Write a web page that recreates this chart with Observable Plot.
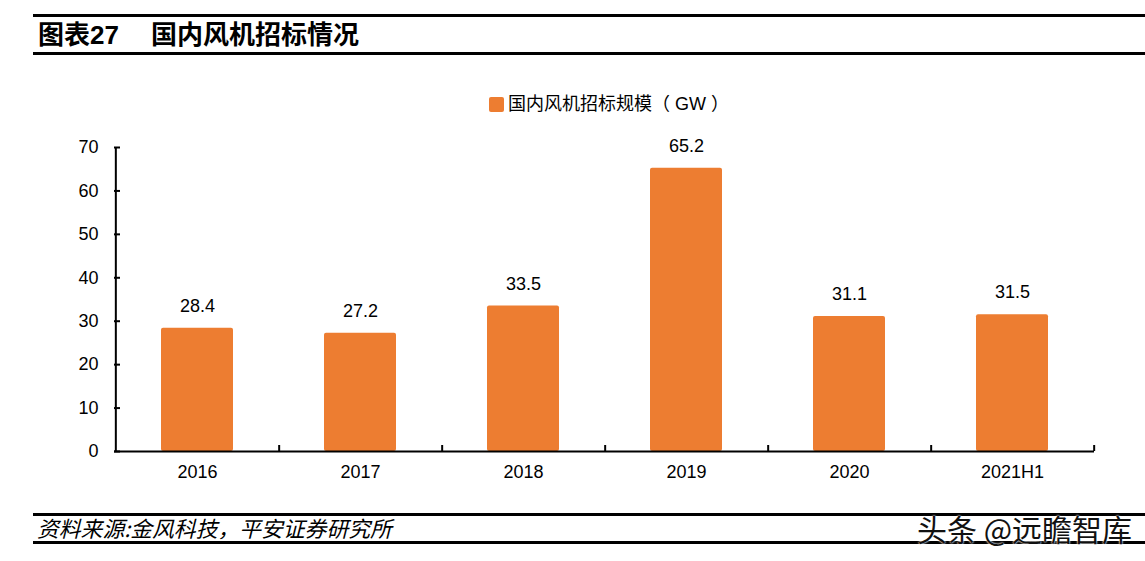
<!DOCTYPE html>
<html>
<head>
<meta charset="utf-8">
<script src="https://cdn.jsdelivr.net/npm/d3@7"></script>
<script src="https://cdn.jsdelivr.net/npm/@observablehq/plot@0.6"></script>
<style>
  html, body { margin: 0; padding: 0; background: #fff; }
  body { width: 1145px; height: 561px; position: relative; overflow: hidden;
         font-family: "Liberation Sans", "Noto Sans CJK SC", sans-serif; color: #000; }
  .rule { position: absolute; left: 33px; right: 0; height: 3px; background: #000; }
  .title { position: absolute; top: 18px; font-size: 26px; font-weight: bold; line-height: 34px;
           font-family: "Liberation Sans", "Noto Sans CJK SC", sans-serif; white-space: nowrap; }
  #legend { position: absolute; left: 489px; top: 92px; font-size: 18px; line-height: 24px; z-index: 2;
            font-family: "Liberation Sans", "Noto Sans CJK SC", sans-serif; white-space: pre; }
  #legend .sw { display: inline-block; width: 15px; height: 15px; background: #ED7D31; border-radius: 2px;
                vertical-align: -2px; margin-right: 4px; }
  #chart { position: absolute; left: 0; top: 60px; z-index: 1; }
  #source { position: absolute; left: 37px; top: 515px; font-size: 21.8px; line-height: 26px; font-style: italic;
            font-family: "Noto Sans CJK SC", sans-serif; white-space: nowrap; }
  #mark { position: absolute; left: 917px; top: 510px; font-size: 30px; line-height: 36px; color: #111; z-index: 3;
          font-family: "Noto Sans CJK SC", sans-serif; white-space: nowrap;
          text-shadow: 0 0 2px #fff, 0 0 2px #fff; }
</style>
</head>
<body>
<div class="rule" style="top:14px"></div>
<div class="title" style="left:38px">图表27</div>
<div class="title" style="left:151px">国内风机招标情况</div>
<div class="rule" style="top:52px"></div>
<div id="chart"></div>
<div id="legend"><span class="sw"></span>国内风机招标规模（ GW ）</div>
<div class="rule" style="top:513px"></div>
<div id="source">资料来源:金风科技，平安证券研究所</div>
<div class="rule" style="top:541px"></div>
<div id="mark">头条 @远瞻智库</div>
<script>
const years = ["2016", "2017", "2018", "2019", "2020", "2021H1"];
const values = [28.4, 27.2, 33.5, 65.2, 31.1, 31.5];
const yTicks = [0, 10, 20, 30, 40, 50, 60, 70];

const data = years.map((y, i) => ({year: y, value: values[i]}));

const W = 1145, mL = 114, mR = 51;
const step = (W - mL - mR) / years.length;

const plot = Plot.plot({
  width: W,
  height: 440,
  marginTop: 87,
  marginBottom: 49,
  marginLeft: mL,
  marginRight: mR,
  style: {fontFamily: "Liberation Sans, Noto Sans CJK SC, sans-serif", fontSize: "18px", color: "#000", background: "transparent"},
  x: {domain: years, paddingInner: 0.56, paddingOuter: 0.28, label: null},
  y: {domain: [0, 70], label: null},
  marks: [
    Plot.barY(data, {x: "year", y: "value", fill: "#ED7D31", rx: 2}),
    Plot.text(data, {x: "year", y: "value", text: d => d.value.toFixed(1), dy: -22, fontSize: 18, fill: "#000"}),
    Plot.axisY({ticks: yTicks, tickSize: -6, tickPadding: 22, strokeWidth: 2, fontSize: 18, label: null}),
    Plot.ruleX(years.slice(0, 1), {x: d => d, y1: 0, y2: 70, dx: -step / 2, stroke: "#000", strokeWidth: 2}),
    Plot.axisX({tickSize: 0, tickPadding: 14, fontSize: 18, label: null}),
    Plot.ruleY([0], {stroke: "#000", strokeWidth: 2}),
    Plot.ruleX(years, {x: d => d, y1: 0, y2: 0, insetBottom: 6, dx: step / 2, stroke: "#000", strokeWidth: 2})
  ]
});
document.getElementById("chart").appendChild(plot);
</script>
</body>
</html>
